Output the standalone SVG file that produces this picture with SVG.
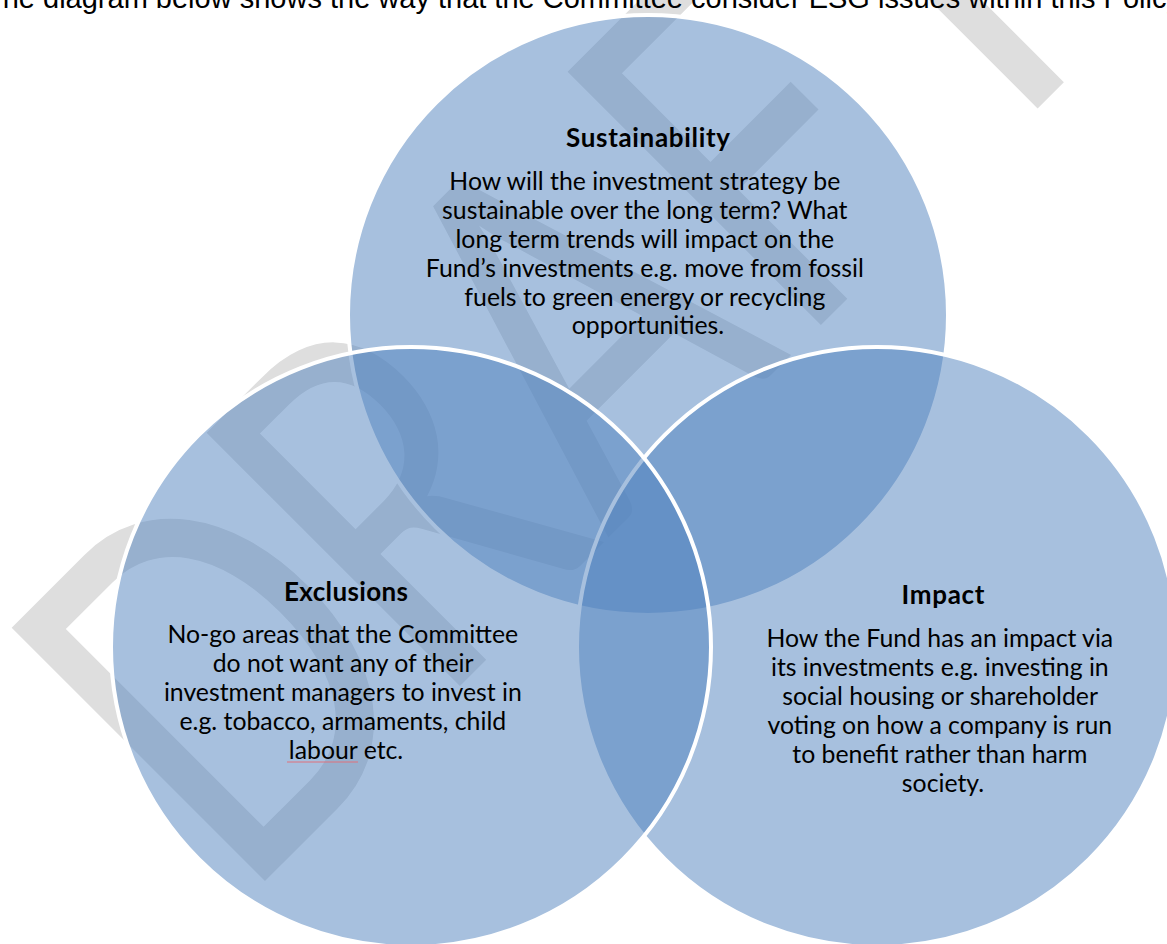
<svg xmlns="http://www.w3.org/2000/svg" width="1167" height="944" viewBox="0 0 1167 944">
  <style>
    .wm { font-family: Lato, "Open Sans", sans-serif; font-size: 500px; fill: #DEDEDE; }
    .lead { font-family: "Liberation Sans", Arial, sans-serif; font-size: 29px; fill: #000000; }
    .venn { fill: #4F81BD; fill-opacity: 0.5; stroke: #FFFFFF; stroke-width: 4; }
    .title { font-family: Lato, "Open Sans", sans-serif; font-size: 26px; font-weight: bold; fill: #000000; text-anchor: middle; }
    .body { font-family: Lato, "Open Sans", sans-serif; font-size: 24.8px; fill: #000000; text-anchor: middle; }
    .spell { stroke: #E0707A; stroke-width: 1; fill: none; }
  </style>

  <rect width="1167" height="944" fill="#FFFFFF"/>

  <!-- page watermark, behind everything -->
  <text id="watermark" class="wm" transform="translate(233,913) rotate(-45) scale(0.77,1)" x="13 371 688 1034 1354" y="0">DRAFT</text>

  <!-- lead-in sentence, clipped by the top of the page -->
  <text id="lead" class="lead" x="-15" y="8">The diagram below shows the way that the Committee consider ESG issues within this Policy</text>

  <g id="connectors"></g>

  <g id="node-sustainability">
    <circle class="venn" cx="648" cy="315" r="300"/>
    <text class="title" x="648" y="147" textLength="164" lengthAdjust="spacing">Sustainability</text>
    <text class="body">
      <tspan x="648" y="190">How will the investment strategy be</tspan>
      <tspan x="648" y="219">sustainable over the long term? What</tspan>
      <tspan x="648" y="248">long term trends will impact on the</tspan>
      <tspan x="648" y="277">Fund’s investments e.g. move from fossil</tspan>
      <tspan x="648" y="306">fuels to green energy or recycling</tspan>
      <tspan x="648" y="334">opportunities.</tspan>
    </text>
  </g>

  <g id="node-impact">
    <circle class="venn" cx="877" cy="647" r="300"/>
    <text class="title" x="943" y="604" textLength="83" lengthAdjust="spacing">Impact</text>
    <text class="body">
      <tspan x="943" y="647">How the Fund has an impact via</tspan>
      <tspan x="943" y="676">its investments e.g. investing in</tspan>
      <tspan x="943" y="705">social housing or shareholder</tspan>
      <tspan x="943" y="734">voting on how a company is run</tspan>
      <tspan x="943" y="763">to benefit rather than harm</tspan>
      <tspan x="943" y="792">society.</tspan>
    </text>
  </g>

  <g id="node-exclusions">
    <circle class="venn" cx="411" cy="647" r="300"/>
    <text class="title" x="346" y="601" textLength="124" lengthAdjust="spacing">Exclusions</text>
    <text class="body">
      <tspan x="346" y="643">No-go areas that the Committee</tspan>
      <tspan x="346" y="672">do not want any of their</tspan>
      <tspan x="346" y="701">investment managers to invest in</tspan>
      <tspan x="346" y="730">e.g. tobacco, armaments, child</tspan>
      <tspan x="346" y="759">labour etc.</tspan>
    </text>
    <line class="spell" x1="287" y1="762" x2="358" y2="762"/>
  </g>
</svg>
